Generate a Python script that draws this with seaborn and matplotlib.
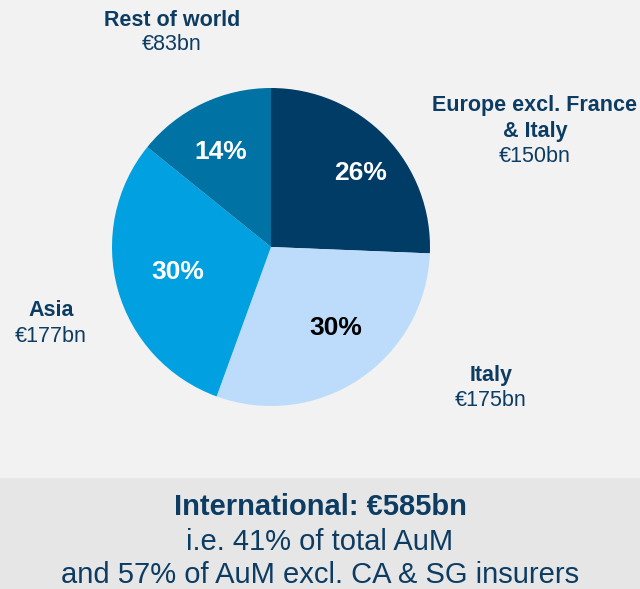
import matplotlib
matplotlib.use("Agg")
import numpy as np
import matplotlib.pyplot as plt
from matplotlib.patches import Rectangle
import seaborn as sns

# International assets under management by region (EUR bn)
regions = ["Europe excl. France\n& Italy", "Italy", "Asia", "Rest of world"]
aum_bn = [150, 175, 177, 83]
slice_colors = ["#003c65", "#bddcfb", "#00a0e1", "#0072a4"]
pct_colors = ["white", "black", "white", "white"]
total_bn = 585

sns.set_theme(style="white")
plt.rcParams["font.family"] = ["Liberation Sans", "DejaVu Sans"]

W, H = 640, 589
NAVY = "#0d3c63"
fig = plt.figure(figsize=(W / 100, H / 100), dpi=100, facecolor="#f2f2f2")
ax = fig.add_axes([0, 0, 1, 1])
ax.set_facecolor("#f2f2f2")

cx, cy, r = 271, H - 247, 159
wedges, _, autotexts = ax.pie(
    aum_bn, colors=slice_colors, startangle=90, counterclock=False,
    center=(cx, cy), radius=r, autopct="%.0f%%", pctdistance=0.68,
    wedgeprops=dict(linewidth=0),
    textprops=dict(fontsize=19, fontweight="bold"),
)
# nudge each percentage label around its wedge's mid-angle
pct_dist = [0.73, 0.65, 0.61, 0.675]
pct_turn = [-4.2, 4.9, -0.6, 2.3]
for w, t, c, d, da in zip(wedges, autotexts, pct_colors, pct_dist, pct_turn):
    t.set_color(c)
    ang = np.deg2rad((w.theta1 + w.theta2) / 2 + da)
    t.set_position((cx + d * r * np.cos(ang), cy + d * r * np.sin(ang)))

ax.set_xlim(0, W)
ax.set_ylim(0, H)
ax.set_aspect("equal")
ax.axis("off")

# region name (bold) and amount under it
label_pos = [(535, 106), (491, 376), (51, 311), (172, 20)]
for name, val, (x, y) in zip(regions, aum_bn, label_pos):
    lines = name.split("\n")
    for i, line in enumerate(lines):
        ax.text(x, H - y - 25 * i, line, ha="center", va="center",
                fontsize=15.5, fontweight="bold", color=NAVY)
    ax.text(x, H - y - 25 * len(lines), f"€{val}bn", ha="center",
            va="center", fontsize=15.5, color=NAVY)

# summary band
ax.add_patch(Rectangle((0, 0), W, H - 478, facecolor="#e6e6e6",
                       edgecolor="none", zorder=0))
ax.text(W / 2, H - 507, f"International: €{total_bn}bn", ha="center",
        va="center", fontsize=21, fontweight="bold", color=NAVY)
ax.text(W / 2, H - 542, "i.e. 41% of total AuM", ha="center", va="center",
        fontsize=21, color=NAVY)
ax.text(W / 2, H - 575, "and 57% of AuM excl. CA & SG insurers",
        ha="center", va="center", fontsize=21, color=NAVY)

fig.savefig("out.png", dpi=100, facecolor=fig.get_facecolor())
